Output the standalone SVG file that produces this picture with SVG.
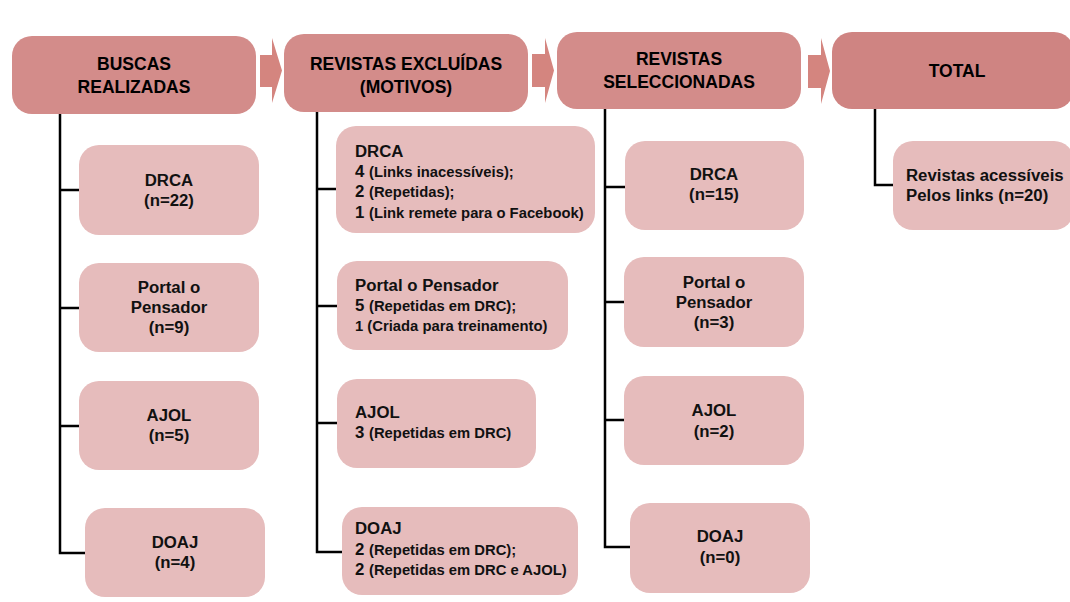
<svg xmlns="http://www.w3.org/2000/svg" width="1070" height="602" viewBox="0 0 1070 602">
<style>
.hdr{fill:#d38c8a}
.tot{fill:#cf8482}
.box{fill:#e6bcbc}
.arr{fill:#d4857f}
.ln{fill:none;stroke:#000;stroke-width:2.5}
.ht{font-family:"Liberation Sans",Arial,sans-serif;font-weight:bold;font-size:17.5px;fill:#000;text-anchor:middle}
.t{font-family:"Liberation Sans",Arial,sans-serif;font-weight:bold;font-size:16.8px;fill:#111;text-anchor:middle}
.tl{font-family:"Liberation Sans",Arial,sans-serif;font-weight:bold;font-size:16.8px;fill:#111}
.s{font-size:14.8px}
</style>
<rect width="1070" height="602" fill="#fff"/>

<g id="connectors">
<polygon class="arr" points="260,55 272,55 272,38 282,70.5 272,103 272,87 260,87"/>
<polygon class="arr" points="532,54 545,54 545,38 554,70.5 545,103 545,87 532,87"/>
<polygon class="arr" points="808,55 821,55 821,38 830,71 821,104 821,88 808,88"/>
<path class="ln" d="M60,114 V553 H85 M60,190 H79 M60,308 H79 M60,426 H79"/>
<path class="ln" d="M317,112 V552 H342 M317,189 H337 M317,306 H337 M317,423 H337"/>
<path class="ln" d="M605,109 V547 H630 M605,187 H625 M605,302 H625 M605,420 H625"/>
<path class="ln" d="M875,109 V185 H893"/>
</g>

<g id="h-buscas">
<rect class="hdr" x="12" y="36" width="244" height="78" rx="20"/>
<text class="ht" x="134" y="70">BUSCAS</text>
<text class="ht" x="134" y="92.5">REALIZADAS</text>
</g>
<g id="h-excluidas">
<rect class="hdr" x="284" y="34" width="244" height="78" rx="20"/>
<text class="ht" x="406" y="69.5">REVISTAS EXCLUÍDAS</text>
<text class="ht" x="406" y="92.5">(MOTIVOS)</text>
</g>
<g id="h-seleccionadas">
<rect class="hdr" x="557" y="32" width="244" height="77" rx="20"/>
<text class="ht" x="679" y="65">REVISTAS</text>
<text class="ht" x="679" y="88">SELECCIONADAS</text>
</g>
<g id="h-total">
<rect class="tot" x="832" y="32" width="242" height="77" rx="20"/>
<text class="ht" x="957" y="77">TOTAL</text>
</g>

<g id="b-drca">
<rect class="box" x="79" y="145" width="180" height="90" rx="20"/>
<text class="t" x="169" y="185.5">DRCA</text>
<text class="t" x="169" y="205.5">(n=22)</text>
</g>
<g id="b-portal">
<rect class="box" x="79" y="263" width="180" height="89" rx="20"/>
<text class="t" x="169" y="292.5">Portal o</text>
<text class="t" x="169" y="312.5">Pensador</text>
<text class="t" x="169" y="333">(n=9)</text>
</g>
<g id="b-ajol">
<rect class="box" x="79" y="381" width="180" height="89" rx="20"/>
<text class="t" x="169" y="420.5">AJOL</text>
<text class="t" x="169" y="441">(n=5)</text>
</g>
<g id="b-doaj">
<rect class="box" x="85" y="508" width="180" height="89" rx="20"/>
<text class="t" x="175" y="548">DOAJ</text>
<text class="t" x="175" y="568">(n=4)</text>
</g>

<g id="e-drca">
<rect class="box" x="336" y="126" width="259" height="107" rx="20"/>
<text class="tl" x="355" y="156.5">DRCA</text>
<text class="tl" x="355" y="176.5">4 <tspan class="s">(Links inacessíveis);</tspan></text>
<text class="tl" x="355" y="197">2 <tspan class="s">(Repetidas);</tspan></text>
<text class="tl" x="355" y="217.5">1 <tspan class="s">(Link remete para o Facebook)</tspan></text>
</g>
<g id="e-portal">
<rect class="box" x="337" y="261" width="231" height="89" rx="20"/>
<text class="tl" x="355" y="290.5">Portal o Pensador</text>
<text class="tl" x="355" y="311">5 <tspan class="s">(Repetidas em DRC);</tspan></text>
<text class="tl s" x="355" y="330.5">1 (Criada para treinamento)</text>
</g>
<g id="e-ajol">
<rect class="box" x="337" y="379" width="199" height="89" rx="20"/>
<text class="tl" x="355" y="418">AJOL</text>
<text class="tl" x="355" y="438">3 <tspan class="s">(Repetidas em DRC)</tspan></text>
</g>
<g id="e-doaj">
<rect class="box" x="342" y="507" width="236" height="88" rx="20"/>
<text class="tl" x="355" y="534">DOAJ</text>
<text class="tl" x="355" y="555">2 <tspan class="s">(Repetidas em DRC);</tspan></text>
<text class="tl" x="355" y="575">2 <tspan class="s">(Repetidas em DRC e AJOL)</tspan></text>
</g>

<g id="s-drca">
<rect class="box" x="625" y="141" width="179" height="89" rx="20"/>
<text class="t" x="714" y="180">DRCA</text>
<text class="t" x="714" y="200">(n=15)</text>
</g>
<g id="s-portal">
<rect class="box" x="624" y="257" width="180" height="90" rx="20"/>
<text class="t" x="714" y="287.5">Portal o</text>
<text class="t" x="714" y="308">Pensador</text>
<text class="t" x="714" y="328">(n=3)</text>
</g>
<g id="s-ajol">
<rect class="box" x="624" y="376" width="180" height="89" rx="20"/>
<text class="t" x="714" y="416">AJOL</text>
<text class="t" x="714" y="436.5">(n=2)</text>
</g>
<g id="s-doaj">
<rect class="box" x="630" y="503" width="180" height="90" rx="20"/>
<text class="t" x="720" y="542">DOAJ</text>
<text class="t" x="720" y="563">(n=0)</text>
</g>

<g id="t-total">
<rect class="box" x="893" y="141" width="181" height="89" rx="20"/>
<text class="tl" x="906" y="181">Revistas acessíveis</text>
<text class="tl" x="906" y="201">Pelos links (n=20)</text>
</g>
</svg>
